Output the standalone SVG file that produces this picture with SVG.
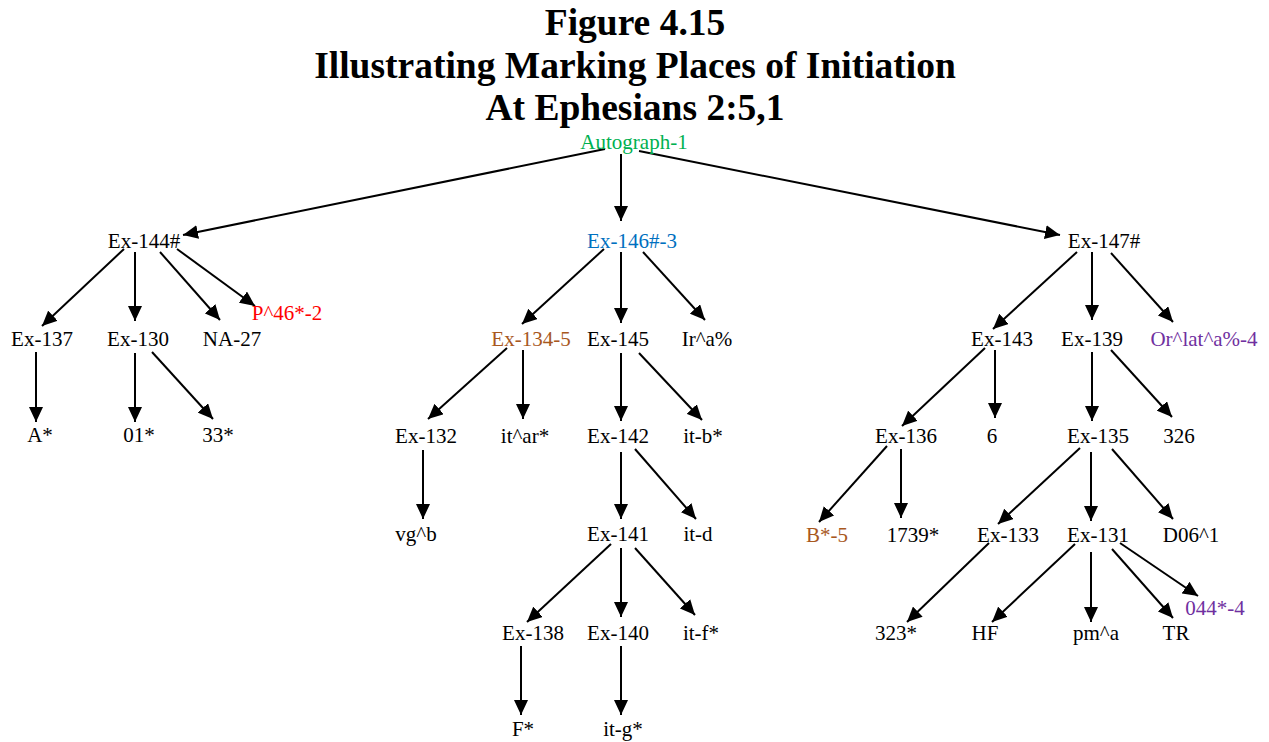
<svg xmlns="http://www.w3.org/2000/svg" width="1269" height="742" viewBox="0 0 1269 742">
  <style>
    .title { font-family: "Liberation Serif", "Times New Roman", serif; font-size: 37.5px; font-weight: bold; fill: #000; text-anchor: middle; }
    .lbl { font-family: "Liberation Serif", "Times New Roman", serif; font-size: 21px; fill: #000; text-anchor: middle; }
    .green { fill: #00b050; }
    .blue { fill: #0070c0; }
    .brown { fill: #a8581e; }
    .red { fill: #ff0000; }
    .purple { fill: #7030a0; }
    .edge { stroke: #000; stroke-width: 2; fill: none; marker-end: url(#arrow); }
  </style>
  <defs>
    <marker id="arrow" viewBox="0 0 15 14" refX="15" refY="7" markerWidth="15" markerHeight="14" markerUnits="userSpaceOnUse" orient="auto">
      <path d="M0,0 L15,7 L0,14 z" fill="#000"/>
    </marker>
  </defs>
  <rect width="1269" height="742" fill="#fff"/>

  <g id="title">
    <text class="title" x="635" y="35">Figure 4.15</text>
    <text class="title" x="635" y="78">Illustrating Marking Places of Initiation</text>
    <text class="title" x="635" y="120">At Ephesians 2:5,1</text>
  </g>

  <g id="connectors">
    <line class="edge" x1="605" y1="149" x2="183" y2="235"/>
    <line class="edge" x1="621" y1="154" x2="621" y2="221"/>
    <line class="edge" x1="639" y1="151" x2="1060" y2="235"/>
    <line class="edge" x1="124" y1="249" x2="42" y2="326"/>
    <line class="edge" x1="135" y1="252" x2="135" y2="321"/>
    <line class="edge" x1="160" y1="252" x2="220" y2="320"/>
    <line class="edge" x1="177" y1="249" x2="255" y2="306"/>
    <line class="edge" x1="36" y1="352" x2="36" y2="422"/>
    <line class="edge" x1="135" y1="353" x2="135" y2="422"/>
    <line class="edge" x1="152" y1="352" x2="213" y2="419"/>
    <line class="edge" x1="604" y1="249" x2="522" y2="324"/>
    <line class="edge" x1="621" y1="252" x2="621" y2="323"/>
    <line class="edge" x1="643" y1="252" x2="705" y2="320"/>
    <line class="edge" x1="507" y1="348" x2="428" y2="419"/>
    <line class="edge" x1="523" y1="350" x2="523" y2="419"/>
    <line class="edge" x1="621" y1="353" x2="621" y2="421"/>
    <line class="edge" x1="639" y1="353" x2="702" y2="420"/>
    <line class="edge" x1="423" y1="450" x2="423" y2="519"/>
    <line class="edge" x1="621" y1="452" x2="621" y2="519"/>
    <line class="edge" x1="635" y1="449" x2="696" y2="519"/>
    <line class="edge" x1="611" y1="544" x2="527" y2="622"/>
    <line class="edge" x1="621" y1="548" x2="621" y2="617"/>
    <line class="edge" x1="635" y1="548" x2="695" y2="615"/>
    <line class="edge" x1="521" y1="646" x2="521" y2="715"/>
    <line class="edge" x1="621" y1="646" x2="621" y2="715"/>
    <line class="edge" x1="1077" y1="252" x2="993" y2="329"/>
    <line class="edge" x1="1092" y1="252" x2="1092" y2="320"/>
    <line class="edge" x1="1111" y1="253" x2="1173" y2="322"/>
    <line class="edge" x1="985" y1="348" x2="902" y2="426"/>
    <line class="edge" x1="995" y1="350" x2="995" y2="418"/>
    <line class="edge" x1="1092" y1="352" x2="1092" y2="421"/>
    <line class="edge" x1="1111" y1="350" x2="1172" y2="417"/>
    <line class="edge" x1="887" y1="446" x2="819" y2="522"/>
    <line class="edge" x1="901" y1="449" x2="901" y2="518"/>
    <line class="edge" x1="1080" y1="448" x2="998" y2="524"/>
    <line class="edge" x1="1091" y1="452" x2="1091" y2="521"/>
    <line class="edge" x1="1112" y1="449" x2="1173" y2="519"/>
    <line class="edge" x1="989" y1="543" x2="907" y2="622"/>
    <line class="edge" x1="1075" y1="544" x2="992" y2="622"/>
    <line class="edge" x1="1091" y1="552" x2="1091" y2="622"/>
    <line class="edge" x1="1112" y1="549" x2="1173" y2="618"/>
    <line class="edge" x1="1120" y1="543" x2="1198" y2="596"/>
  </g>

  <g id="n-autograph"><text class="lbl green" x="634" y="149">Autograph-1</text></g>
  <g id="n-ex144"><text class="lbl" x="144" y="248">Ex-144#</text></g>
  <g id="n-ex146"><text class="lbl blue" x="632" y="248">Ex-146#-3</text></g>
  <g id="n-ex147"><text class="lbl" x="1104" y="248">Ex-147#</text></g>

  <g id="n-ex137"><text class="lbl" x="42" y="346">Ex-137</text></g>
  <g id="n-ex130"><text class="lbl" x="138" y="346">Ex-130</text></g>
  <g id="n-na27"><text class="lbl" x="232" y="346">NA-27</text></g>
  <g id="n-p46"><text class="lbl red" x="287" y="320">P^46*-2</text></g>
  <g id="n-a"><text class="lbl" x="40" y="442">A*</text></g>
  <g id="n-01"><text class="lbl" x="139" y="442">01*</text></g>
  <g id="n-33"><text class="lbl" x="218" y="442">33*</text></g>

  <g id="n-ex134"><text class="lbl brown" x="531" y="346">Ex-134-5</text></g>
  <g id="n-ex145"><text class="lbl" x="618" y="346">Ex-145</text></g>
  <g id="n-ira"><text class="lbl" x="707" y="346">Ir^a%</text></g>
  <g id="n-ex132"><text class="lbl" x="426" y="443">Ex-132</text></g>
  <g id="n-itar"><text class="lbl" x="525" y="443">it^ar*</text></g>
  <g id="n-ex142"><text class="lbl" x="618" y="443">Ex-142</text></g>
  <g id="n-itb"><text class="lbl" x="703" y="443">it-b*</text></g>
  <g id="n-vgb"><text class="lbl" x="416" y="541">vg^b</text></g>
  <g id="n-ex141"><text class="lbl" x="618" y="541">Ex-141</text></g>
  <g id="n-itd"><text class="lbl" x="698" y="541">it-d</text></g>
  <g id="n-ex138"><text class="lbl" x="533" y="640">Ex-138</text></g>
  <g id="n-ex140"><text class="lbl" x="618" y="640">Ex-140</text></g>
  <g id="n-itf"><text class="lbl" x="701" y="640">it-f*</text></g>
  <g id="n-f"><text class="lbl" x="523" y="736">F*</text></g>
  <g id="n-itg"><text class="lbl" x="623" y="736">it-g*</text></g>

  <g id="n-ex143"><text class="lbl" x="1002" y="346">Ex-143</text></g>
  <g id="n-ex139"><text class="lbl" x="1092" y="346">Ex-139</text></g>
  <g id="n-orlat"><text class="lbl purple" x="1204" y="346">Or^lat^a%-4</text></g>
  <g id="n-ex136"><text class="lbl" x="906" y="443">Ex-136</text></g>
  <g id="n-6"><text class="lbl" x="992" y="443">6</text></g>
  <g id="n-ex135"><text class="lbl" x="1098" y="443">Ex-135</text></g>
  <g id="n-326"><text class="lbl" x="1179" y="443">326</text></g>
  <g id="n-b"><text class="lbl brown" x="827" y="542">B*-5</text></g>
  <g id="n-1739"><text class="lbl" x="913" y="542">1739*</text></g>
  <g id="n-ex133"><text class="lbl" x="1008" y="542">Ex-133</text></g>
  <g id="n-ex131"><text class="lbl" x="1098" y="542">Ex-131</text></g>
  <g id="n-d06"><text class="lbl" x="1191" y="542">D06^1</text></g>
  <g id="n-044"><text class="lbl purple" x="1215" y="615">044*-4</text></g>
  <g id="n-323"><text class="lbl" x="896" y="640">323*</text></g>
  <g id="n-hf"><text class="lbl" x="985" y="640">HF</text></g>
  <g id="n-pma"><text class="lbl" x="1096" y="640">pm^a</text></g>
  <g id="n-tr"><text class="lbl" x="1176" y="640">TR</text></g>
</svg>
